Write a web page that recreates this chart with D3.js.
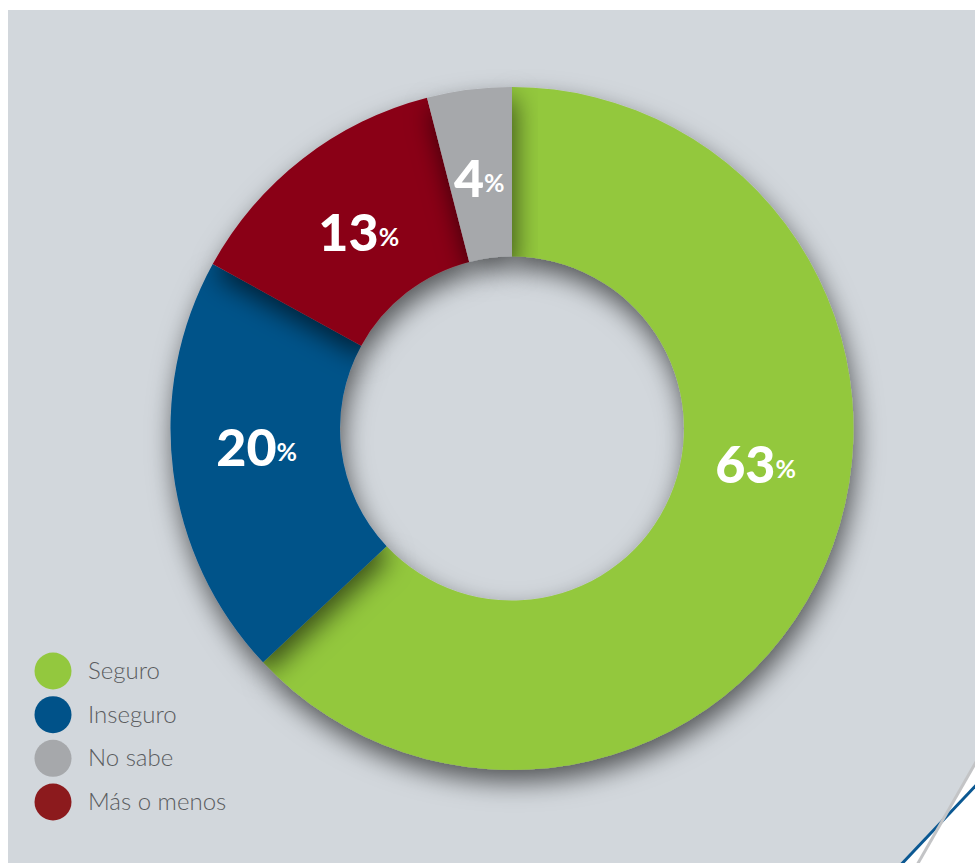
<!DOCTYPE html>
<html>
<head>
<meta charset="utf-8">
<script src="https://cdn.jsdelivr.net/npm/d3@7"></script>
<style>
  html, body { margin: 0; padding: 0; background: #fff; }
  svg { display: block; }
</style>
</head>
<body>
<div id="chart"></div>
<script>
// data
const categories = ["Seguro", "Inseguro", "Más o menos", "No sabe"];
const values = [63, 20, 13, 4];
const sliceColors = ["#93c83e", "#005289", "#8a0019", "#a6a8ab"];

const legendOrder = ["Seguro", "Inseguro", "No sabe", "Más o menos"];
const legendColors = ["#93c83e", "#005289", "#a6a8ab", "#8c1a1d"];

function PlotDonut(parent_element) {
  const width = 975, height = 863;
  const cx = 512, cy = 428.5;
  const outerR = 341.5, innerR = 172;

  const svg = d3.select("#" + parent_element)
    .append("svg")
      .attr("width", width)
      .attr("height", height);

  const defs = svg.append("defs");
  const shadow = defs.append("filter")
      .attr("id", "shadow")
      .attr("x", "-30%").attr("y", "-30%")
      .attr("width", "160%").attr("height", "160%");
  shadow.append("feDropShadow")
      .attr("dx", 3)
      .attr("dy", 12)
      .attr("stdDeviation", 13)
      .attr("flood-color", "#000")
      .attr("flood-opacity", 0.6);

  // page background with the white corner cut by the two diagonal strokes
  svg.append("path")
      .attr("d", "M8,10 L975,10 L975,763 L943,819 L903,863 L8,863 Z")
      .attr("fill", "#d2d7dc");
  svg.append("line")
      .attr("x1", 895).attr("y1", 871).attr("x2", 982).attr("y2", 779)
      .attr("stroke", "#0b5892").attr("stroke-width", 3);
  svg.append("line")
      .attr("x1", 913).attr("y1", 872).attr("x2", 980).attr("y2", 755)
      .attr("stroke", "#c3c4c6").attr("stroke-width", 3);

  const pie = d3.pie().sort(null).value(d => d.value);
  const data = categories.map((c, i) => ({ name: c, value: values[i], color: sliceColors[i] }));
  const arcs = pie(data);

  const arc = d3.arc().innerRadius(innerR).outerRadius(outerR);

  const g = svg.append("g")
      .attr("transform", `translate(${cx},${cy})`);

  g.selectAll("path.slice")
    .data(arcs)
    .enter()
    .append("path")
      .attr("class", "slice")
      .attr("d", arc)
      .attr("fill", d => d.data.color)
      .attr("filter", "url(#shadow)");

  // labels: nudged around the ring like in the original layout
  const labelTurn = { "Seguro": -15.4, "Inseguro": 3.2, "Más o menos": 0, "No sabe": -0.2 };
  const labelR = { "Seguro": 246, "Inseguro": 256, "Más o menos": 250, "No sabe": 254 };

  const labels = g.selectAll("text.value")
    .data(arcs)
    .enter()
    .append("text")
      .attr("class", "value")
      .attr("text-anchor", "middle")
      .attr("dominant-baseline", "central")
      .attr("fill", "#fff")
      .style("font-family", "Lato, 'Open Sans', sans-serif")
      .attr("transform", d => {
        const a = (d.startAngle + d.endAngle) / 2 + labelTurn[d.data.name] * Math.PI / 180;
        const r = labelR[d.data.name];
        return `translate(${r * Math.sin(a)},${-r * Math.cos(a)})`;
      });

  labels.append("tspan")
      .style("font-size", "52px")
      .style("font-weight", 900)
      .text(d => d.data.value);
  labels.append("tspan")
      .style("font-size", "25px")
      .style("font-weight", 700)
      .attr("dy", 5)
      .text("%");

  // legend
  const y = d3.scalePoint().domain(legendOrder).range([671, 802]);
  const legend = svg.append("g")
    .selectAll("g")
    .data(legendOrder)
    .enter()
    .append("g")
      .attr("transform", d => `translate(53,${y(d)})`);

  legend.append("circle")
      .attr("r", 18.5)
      .attr("fill", (d, i) => legendColors[i]);

  legend.append("text")
      .attr("x", 35)
      .attr("y", 8)
      .attr("fill", "#5a5c5f")
      .style("font-family", "Lato, 'Noto Sans', sans-serif")
      .style("font-size", "24px")
      .style("font-weight", 300)
      .text(d => d);
}

document.addEventListener('DOMContentLoaded', (event) => {
  PlotDonut("chart");
});
</script>
</body>
</html>
